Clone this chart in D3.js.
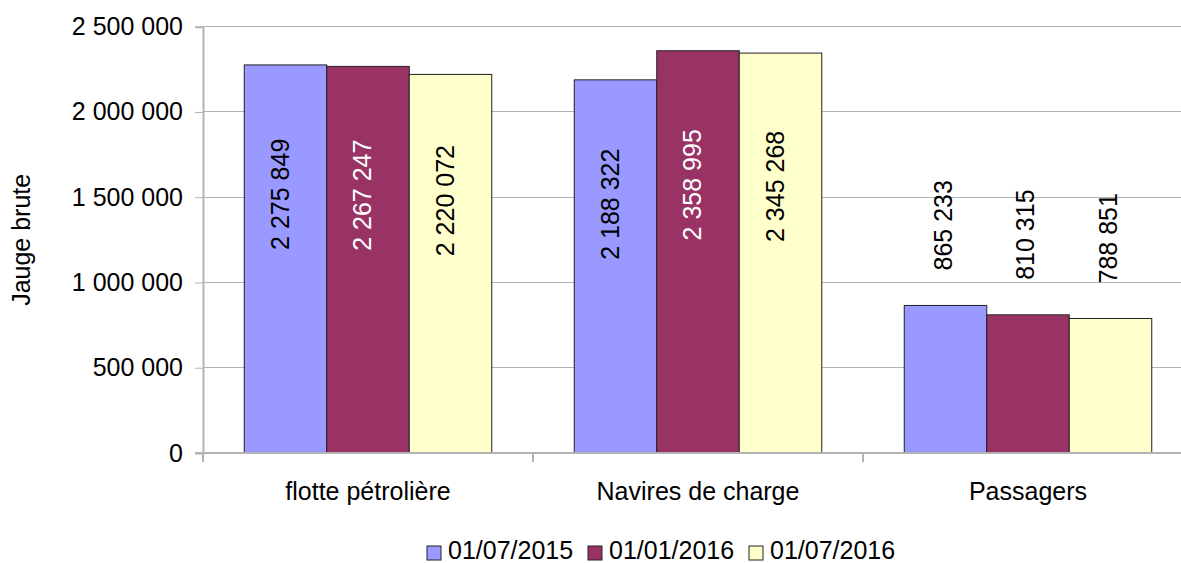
<!DOCTYPE html>
<html><head><meta charset="utf-8">
<script src="https://cdn.jsdelivr.net/npm/d3@7"></script>
<style>
html,body{margin:0;padding:0;background:#fff;}
svg text{font-family:"Liberation Sans",Arial,sans-serif;}
</style></head>
<body>
<svg id="chart" width="1181" height="563"></svg>
<script>
const categories = ["flotte pétrolière", "Navires de charge", "Passagers"];
const seriesNames = ["01/07/2015", "01/01/2016", "01/07/2016"];
const s2015_07 = [2275849, 2188322, 865233];
const s2016_01 = [2267247, 2358995, 810315];
const s2016_07 = [2220072, 2345268, 788851];
const yTicks = [0, 500000, 1000000, 1500000, 2000000, 2500000];
const colors = ["#9999ff", "#993366", "#ffffcc"];
const labelColors = ["#000", "#fff", "#000"];
const yTitle = "Jauge brute";

const series = [s2015_07, s2016_01, s2016_07];
const svg = d3.select("#chart");
const fs = 25;
const m = {left: 203, top: 26.7, right: 1193, bottom: 453};

const fmt = v => d3.format(",")(v).replace(/,/g, " ");

const x0 = d3.scaleBand().domain(categories).range([m.left, m.right]).paddingInner(0).paddingOuter(0);
const x1 = d3.scaleBand().domain(seriesNames).range([0, x0.bandwidth()]).paddingInner(0).paddingOuter(0.5);
const y = d3.scaleLinear().domain([0, 2500000]).range([m.bottom, m.top]);

// gridlines
svg.append("g").selectAll("line").data(yTicks).join("line")
  .attr("x1", m.left).attr("x2", m.right)
  .attr("y1", d => y(d)).attr("y2", d => y(d))
  .attr("stroke", "#b3b3b3").attr("stroke-width", 1).attr("shape-rendering", "crispEdges");

// y axis
const yAxis = d3.axisLeft(y).tickValues(yTicks).tickFormat(fmt).tickSize(8).tickPadding(12);
const gy = svg.append("g").attr("transform", `translate(${m.left},0)`).call(yAxis);
gy.select(".domain").attr("stroke", "#b3b3b3").attr("stroke-width", 2);
gy.selectAll(".tick line").attr("stroke", "#b3b3b3");
gy.selectAll(".tick text").attr("font-size", fs).attr("fill", "#000")
  .attr("font-family", "Liberation Sans, Arial, sans-serif");

// bars
const groups = svg.append("g").selectAll("g").data(categories).join("g")
  .attr("transform", d => `translate(${x0(d)},0)`);
groups.selectAll("rect").data((c, i) => series.map((s, j) => ({v: s[i], j}))).join("rect")
  .attr("x", d => x1(seriesNames[d.j]))
  .attr("width", x1.bandwidth())
  .attr("y", d => y(d.v))
  .attr("height", d => y(0) - y(d.v))
  .attr("fill", d => colors[d.j])
  .attr("stroke", "#222").attr("stroke-width", 1);

// labels
groups.selectAll("text.lbl").data((c, i) => series.map((s, j) => ({v: s[i], j}))).join("text")
  .attr("class", "lbl")
  .attr("font-size", fs)
  .attr("fill", d => d.v > 1500000 ? labelColors[d.j] : "#000")
  .attr("text-anchor", d => d.v > 1500000 ? "middle" : "start")
  .attr("transform", d => {
    const cx = x1(seriesNames[d.j]) + x1.bandwidth() / 2 + fs * 0.36 - (d.v > 1500000 ? 6 : 3);
    const cy = d.v > 1500000 ? y(d.v) + (y(0) - y(d.v)) / 3 : y(d.v) - 35;
    return `translate(${cx},${cy}) rotate(-90)`;
  })
  .text(d => fmt(d.v));

// x axis
const gx = svg.append("g").attr("transform", `translate(0,${m.bottom})`);
gx.append("line").attr("x1", m.left - 8).attr("x2", m.right).attr("y1", 0).attr("y2", 0)
  .attr("stroke", "#b3b3b3").attr("stroke-width", 2);
const tickXs = categories.map(c => x0(c));
gx.selectAll("line.t").data(tickXs).join("line").attr("class", "t")
  .attr("x1", d => d).attr("x2", d => d).attr("y1", 0).attr("y2", 9)
  .attr("stroke", "#b3b3b3").attr("stroke-width", 2);
gx.selectAll("text.cat").data(categories).join("text").attr("class", "cat")
  .attr("x", d => x0(d) + x0.bandwidth() / 2).attr("y", 47)
  .attr("text-anchor", "middle").attr("font-size", fs).attr("fill", "#000")
  .text(d => d);

// y title
svg.append("text").attr("transform", `translate(30,${(m.top + m.bottom) / 2}) rotate(-90)`)
  .attr("text-anchor", "middle").attr("font-size", fs).attr("fill", "#000").text(yTitle);

// legend
const legX = [427, 588, 749];
const lg = svg.append("g").selectAll("g").data(seriesNames).join("g")
  .attr("transform", (d, i) => `translate(${legX[i]},546)`);
lg.append("rect").attr("width", 14).attr("height", 14)
  .attr("fill", (d, i) => colors[i]).attr("stroke", "#222").attr("stroke-width", 1);
lg.append("text").attr("x", 21).attr("y", 13).attr("font-size", fs).attr("fill", "#000").text(d => d);
</script>
</body></html>
